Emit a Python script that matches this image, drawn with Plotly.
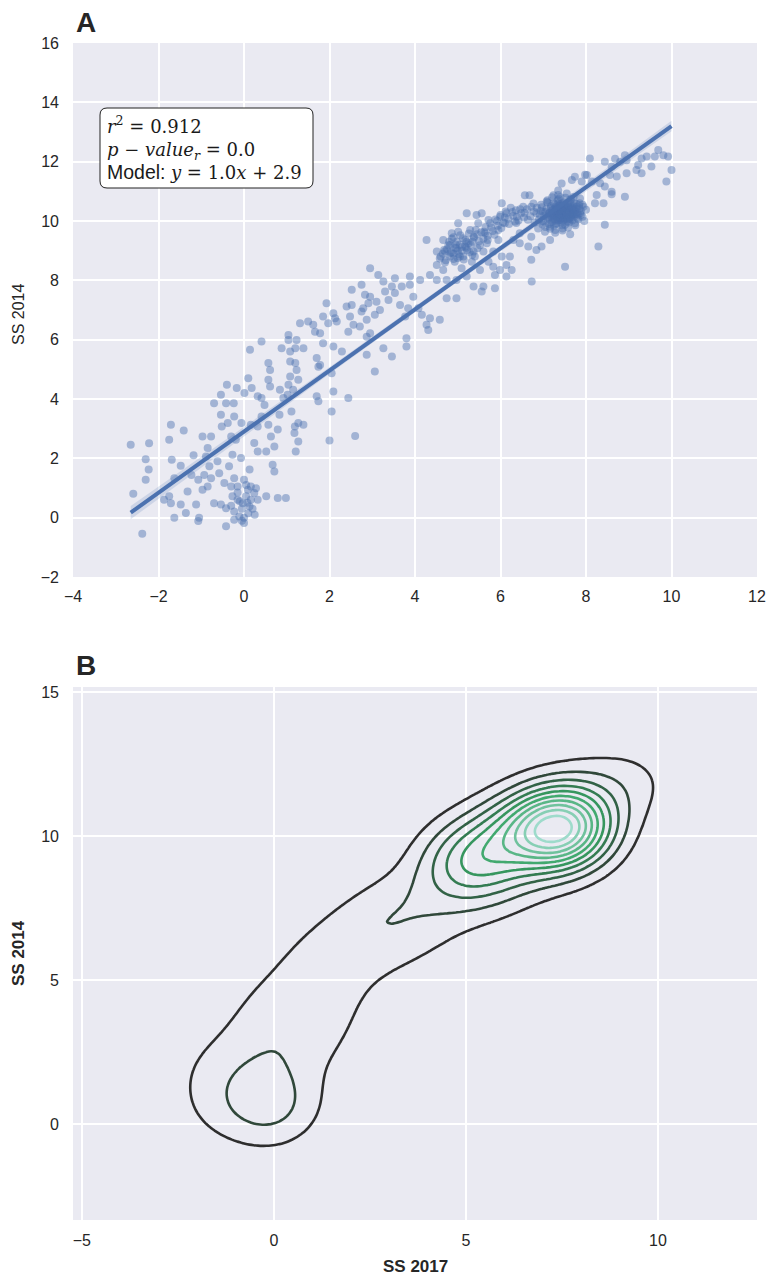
import numpy as np
import plotly.graph_objects as go

# (SS 2017, SS 2014) pairs, grouped by region of the cloud
lower_left = [
    (-2.65, 2.46), (-2.22, 2.51), (-2.30, 1.97), (-2.23, 1.62), (-2.30, 1.28), (-2.59, 0.81), (-2.38, -0.54),
    (-1.71, 3.13), (-1.75, 2.63), (-1.41, 2.94), (-1.69, 1.95), (-1.48, 1.75), (-1.63, 1.33), (-1.75, 0.72),
    (-1.71, 0.49), (-1.87, 0.60), (-1.48, 0.44), (-1.63, 0.00), (-1.32, 0.88), (-1.18, 2.10), (-1.23, 1.44),
    (-1.07, 1.28), (-1.12, 0.44), (-1.36, 0.16), (-1.05, 0.00), (-1.07, -0.11), (-0.97, 2.74), (-0.77, 2.74),
    (-0.85, 2.35), (-0.89, 2.06), (-0.81, 1.73), (-0.93, 1.44), (-0.77, 1.33), (-0.85, 1.05), (-0.97, 0.94),
    (-0.62, 1.90), (-0.58, 1.50), (-0.46, 1.17), (-0.70, 0.49), (-0.54, 0.44), (-0.42, 0.32), (-0.42, -0.29),
    (-0.38, 3.19), (-0.30, 2.74), (-0.19, 2.63), (-0.27, 2.12), (-0.07, 2.01), (-0.35, 1.73), (-0.23, 1.33),
    (-0.30, 1.05), (-0.15, 1.05), (-0.27, 0.72), (-0.15, 0.60), (-0.03, 0.49), (-0.23, 0.21), (-0.11, 0.04),
    (0.00, 0.00), (0.00, -0.18), (-0.23, -0.07), (0.09, 0.94), (0.16, 1.05), (0.24, 0.83), (0.16, 0.60),
    (0.32, 0.60), (0.13, 0.38), (0.05, 0.72), (0.28, 0.99), (0.00, 1.28), (0.13, 1.62), (0.32, 2.23),
    (0.24, 2.52), (0.52, 2.23), (0.71, 2.40), (0.67, 1.78), (0.71, 1.56), (0.52, 0.72), (0.79, 0.66),
    (0.98, 0.66), (1.21, 2.23), (1.27, 2.57), (1.18, 2.85), (0.79, 2.97), (0.63, 2.74),
    (-0.05, 0.30), (0.10, 0.15), (-0.15, 0.85), (0.05, 1.10), (0.20, 0.30), (-0.10, 0.55), (0.08, 0.50),
    (-0.30, 0.40), (0.25, 0.10), (-0.05, -0.10),
]

lower_rise = [
    (-0.70, 3.86), (-0.54, 3.47), (-0.42, 3.86), (-0.23, 3.41), (-0.24, 3.86), (-0.54, 4.14),
    (0.16, 3.13), (0.32, 3.07), (0.01, 4.20), (0.32, 4.09), (0.48, 3.80), (0.83, 3.47), (1.11, 3.58),
    (1.19, 3.07), (1.02, 4.14), (-0.40, 4.48), (-0.52, 3.07), (-0.17, 4.37), (0.10, 4.70), (0.18, 4.37),
    (0.41, 4.03), (-0.06, 3.19), (0.41, 3.41), (0.57, 3.13),
    (0.14, 5.66), (0.41, 5.94), (0.57, 5.21), (0.61, 4.98), (0.57, 4.65), (0.61, 4.42), (0.88, 5.71),
    (1.04, 6.16), (1.04, 5.99), (1.08, 5.60), (1.23, 5.99), (1.20, 5.71), (1.39, 5.71), (1.08, 5.26),
    (1.20, 5.21), (1.23, 4.98), (1.08, 4.76), (1.04, 4.48), (1.27, 4.65), (1.15, 4.31), (0.92, 4.03),
    (0.84, 4.31), (1.27, 3.19), (1.39, 3.13),
]

middle = [
    (1.31, 6.55), (1.50, 6.61), (1.62, 6.50), (1.78, 6.22), (1.66, 6.27), (1.85, 5.88), (1.70, 5.38),
    (1.74, 5.09), (1.78, 5.15), (2.05, 4.87), (2.09, 5.77), (2.29, 5.60), (1.70, 4.09), (1.74, 3.92),
    (2.05, 3.58), (2.09, 4.25), (2.44, 4.03), (1.93, 7.23), (1.85, 6.78), (2.09, 6.89), (2.13, 6.72),
    (1.97, 6.55), (2.40, 7.12), (2.52, 7.17), (2.75, 6.95), (2.48, 6.78), (2.56, 6.50), (2.71, 6.44),
    (2.44, 6.27), (2.52, 7.68), (2.75, 7.85), (2.83, 7.51), (2.87, 6.10), (2.87, 5.49), (2.87, 6.67),
    (2.00, 2.60), (2.60, 2.75), (3.06, 4.93), (2.95, 6.22), (3.26, 5.71), (3.46, 5.43), (3.80, 6.05),
    (3.80, 5.77), (2.17, 6.61), (2.79, 7.06), (2.95, 7.45), (2.91, 7.23), (3.10, 7.28), (3.18, 7.00),
    (3.06, 6.84), (3.30, 7.62), (3.38, 7.34), (3.46, 7.79), (3.53, 8.07), (3.53, 7.57), (3.65, 7.17),
    (3.69, 7.79), (3.88, 8.13), (3.88, 7.85), (3.96, 7.45), (3.84, 7.06), (3.77, 6.78), (4.08, 7.06),
    (4.16, 6.84), (4.35, 6.72), (4.58, 6.67), (4.31, 6.33), (4.27, 6.50), (2.95, 8.41), (3.14, 8.18),
    (3.26, 7.96),
]

upper_mid = [
    (4.27, 9.36), (4.12, 8.01), (4.35, 8.18), (4.51, 8.01), (4.66, 8.35), (4.58, 8.74), (4.51, 8.97),
    (4.70, 8.97), (4.82, 8.80), (4.66, 9.36), (4.86, 9.59), (4.82, 9.19), (4.97, 9.08), (4.93, 8.63),
    (5.09, 8.41), (4.97, 8.01), (5.21, 8.13), (5.13, 8.80), (5.21, 9.30), (5.01, 9.64), (5.01, 9.92),
    (5.29, 9.70), (5.48, 9.92), (5.37, 9.47), (5.17, 9.14), (5.37, 8.97), (5.33, 8.63), (5.52, 8.35),
    (5.37, 7.79), (5.60, 7.79), (5.56, 7.62), (5.87, 7.73), (4.74, 7.40), (4.97, 7.40), (5.64, 9.59),
    (5.68, 9.25), (5.60, 8.97), (5.72, 8.63), (5.83, 8.46), (5.87, 8.18), (5.99, 8.35), (6.14, 8.52),
    (6.26, 8.35), (6.14, 8.13), (5.99, 10.14), (6.03, 10.60), (6.14, 10.26), (6.10, 9.92), (5.95, 9.70),
    (5.95, 9.36), (5.83, 8.97), (6.03, 8.80), (6.22, 8.80), (6.30, 9.36), (6.34, 9.98), (5.21, 10.26),
    (5.44, 10.20), (4.51, 8.52), (4.74, 8.01), (5.56, 10.26), (5.72, 10.03),
    (4.75, 9.05), (4.90, 8.90), (5.05, 9.20), (4.80, 9.30), (5.00, 8.75), (4.65, 8.90), (5.10, 9.00),
    (4.90, 9.45),
]

# heavily overlapping markers along the ridge between x=4.6 and x=6.8
ridge_core = [
    (4.60, 8.80), (4.68, 9.02), (4.72, 8.68), (4.78, 9.18), (4.83, 8.92), (4.86, 9.40), (4.90, 8.72),
    (4.94, 9.10), (4.98, 9.30), (5.02, 8.88), (5.06, 9.52), (5.10, 9.12), (5.14, 8.70), (5.18, 9.36),
    (5.22, 9.02), (5.26, 9.58), (5.30, 9.20), (5.34, 8.86), (5.38, 9.44), (5.42, 9.70), (5.46, 9.08),
    (5.50, 9.32), (5.55, 9.62), (5.60, 9.40), (5.65, 9.80), (5.70, 9.50), (5.76, 9.92), (5.82, 9.66),
    (5.88, 10.05), (5.94, 9.84), (6.00, 10.20), (6.06, 9.95), (6.12, 10.32), (6.18, 10.08), (6.24, 10.45),
    (6.30, 10.18), (6.36, 10.36), (6.42, 10.02), (6.48, 10.26), (6.55, 10.12), (6.62, 10.40), (6.70, 10.16),
    (6.78, 10.32), (5.00, 9.00), (5.25, 9.25),
    (4.85, 8.95), (4.95, 9.20), (5.05, 8.80), (5.12, 9.42), (5.20, 9.10), (5.28, 8.95), (5.35, 9.30),
    (5.45, 9.55), (5.52, 9.18), (5.62, 9.64), (5.70, 9.36), (5.78, 9.78), (5.86, 9.54), (5.92, 10.00),
    (6.02, 9.76), (6.10, 10.12), (6.20, 9.90), (6.28, 10.30), (6.38, 10.14), (6.46, 10.40), (6.56, 10.28),
    (6.64, 10.04), (6.72, 10.48), (4.70, 8.60), (5.40, 8.80),
]

upper_right = [
    (6.37, 9.93), (6.45, 9.59), (6.53, 10.48), (6.57, 10.87), (6.68, 10.87), (6.77, 10.59), (6.84, 10.26),
    (6.96, 9.98), (6.88, 9.75), (6.72, 9.47), (6.65, 9.14), (6.84, 9.02), (6.72, 8.69), (6.96, 9.14),
    (7.04, 9.64), (7.16, 9.81), (7.24, 10.14), (7.35, 10.31), (7.47, 10.37), (7.39, 10.03), (7.55, 10.09),
    (7.63, 10.31), (7.71, 10.20), (7.59, 10.48), (7.78, 10.48), (7.86, 10.26), (7.43, 10.53), (7.28, 10.42),
    (7.32, 9.92), (7.51, 9.87), (7.74, 9.92), (7.24, 10.87), (7.35, 11.03), (7.43, 11.26), (7.55, 10.93),
    (7.71, 10.81), (7.86, 10.76), (7.94, 10.48), (7.67, 11.38), (7.74, 11.49), (7.90, 11.33), (7.98, 11.56),
    (7.51, 8.46), (6.73, 7.96), (7.16, 9.36), (7.28, 9.60), (7.63, 9.55), (6.45, 9.25),
    (7.30, 10.20), (7.40, 10.40), (7.50, 10.25), (7.60, 10.60), (7.45, 10.10), (7.20, 10.35), (7.65, 10.15),
    (7.35, 10.60), (7.55, 10.45), (7.70, 10.35), (7.80, 10.10), (7.15, 10.05), (7.25, 9.85), (7.45, 9.75),
    (7.60, 9.95), (7.00, 10.30), (6.95, 10.55), (7.10, 10.70), (7.85, 10.60), (7.40, 10.80),
]

# the saturated blob around SS 2017 = 7.4, SS 2014 = 10.3
upper_core = [
    (7.02, 10.18), (7.08, 10.42), (7.12, 10.11), (7.15, 10.28), (7.18, 10.50), (7.20, 9.96), (7.22, 10.22),
    (7.24, 10.61), (7.26, 10.05), (7.27, 10.33), (7.29, 10.47), (7.30, 9.90), (7.31, 10.14), (7.33, 10.26),
    (7.34, 10.70), (7.36, 10.02), (7.37, 10.38), (7.38, 10.18), (7.39, 10.55), (7.41, 10.29), (7.42, 9.94),
    (7.43, 10.44), (7.44, 10.12), (7.46, 10.33), (7.47, 10.62), (7.48, 10.21), (7.49, 10.04), (7.50, 10.40),
    (7.52, 10.27), (7.53, 10.52), (7.54, 10.15), (7.56, 10.36), (7.57, 9.98), (7.58, 10.24), (7.60, 10.46),
    (7.61, 10.08), (7.62, 10.31), (7.64, 10.58), (7.65, 10.19), (7.66, 10.40), (7.68, 10.02), (7.69, 10.28),
    (7.71, 10.50), (7.72, 10.14), (7.74, 10.35), (7.76, 10.23), (7.78, 10.57), (7.80, 10.30), (7.82, 10.06),
    (7.85, 10.41), (6.90, 10.05), (6.94, 10.34), (6.98, 9.88), (7.05, 9.80), (7.10, 10.62), (7.16, 9.74),
    (7.21, 10.80), (7.28, 9.70), (7.35, 10.88), (7.45, 9.68), (7.52, 10.78), (7.58, 9.78), (7.66, 10.74),
    (7.75, 9.86), (7.88, 10.20), (7.92, 10.55), (7.96, 10.00), (8.00, 10.38), (6.85, 10.45), (6.80, 9.95),
    (7.13, 10.25), (7.23, 10.38), (7.32, 10.44), (7.40, 10.09), (7.51, 10.16), (7.59, 10.37), (7.67, 10.22),
    (7.44, 10.26), (7.36, 10.12), (7.55, 10.30), (7.25, 10.20), (7.47, 10.48), (7.62, 10.12), (7.34, 10.34),
    (7.70, 10.42), (7.19, 10.16), (7.42, 10.58), (7.57, 10.05), (7.29, 10.02), (7.48, 10.34),
    (7.05, 10.30), (7.11, 10.05), (7.17, 10.44), (7.21, 10.10), (7.26, 10.56), (7.30, 10.30), (7.33, 10.08),
    (7.37, 10.50), (7.40, 10.22), (7.43, 10.36), (7.46, 10.00), (7.49, 10.52), (7.52, 10.34), (7.55, 10.20),
    (7.58, 10.54), (7.61, 10.26), (7.64, 10.06), (7.67, 10.46), (7.70, 10.24), (7.73, 10.60), (7.77, 10.40),
    (7.81, 10.22), (7.84, 10.52), (7.88, 10.34), (7.92, 10.14), (6.92, 10.20), (6.97, 10.46), (7.00, 9.98),
    (7.08, 10.66), (7.14, 9.90), (7.36, 10.74), (7.44, 9.86), (7.63, 10.72),
]

top_right = [
    (8.09, 12.11), (8.44, 12.00), (8.60, 11.83), (8.91, 12.22), (8.95, 12.05), (8.80, 12.00), (8.68, 12.10),
    (9.30, 12.11), (9.42, 12.17), (9.69, 12.39), (9.81, 12.22), (9.61, 12.17), (9.92, 12.17), (9.22, 11.89),
    (9.53, 11.84), (9.18, 11.72), (9.30, 11.61), (10.00, 11.72), (9.88, 11.33), (8.95, 11.61), (8.72, 11.50),
    (8.56, 11.55), (8.02, 11.55), (8.14, 11.33), (8.33, 11.27), (8.44, 11.16), (8.60, 10.99), (8.60, 10.90),
    (8.91, 10.82), (8.25, 10.88), (8.21, 10.60), (8.41, 10.60), (8.44, 9.87), (8.29, 9.14),
]

# regression statistics shown in the box
R_SQUARED = 0.912
P_VALUE_R = 0.0
FIT_SLOPE = 1.03
FIT_INTERCEPT = 2.90

# smoothing of the bivariate kernel density (SS 2017, SS 2014)
KDE_BW = (0.86, 0.93)
KDE_CUT = 3
N_LEVELS = 10

points = np.array(lower_left + lower_rise + middle + upper_mid + ridge_core
                  + upper_right + upper_core + top_right)
ss2017 = points[:, 0]
ss2014 = points[:, 1]

# fitted line with a 95% band for the mean
n = len(ss2017)
resid = ss2014 - (FIT_SLOPE * ss2017 + FIT_INTERCEPT)
s_err = np.sqrt(np.sum(resid ** 2) / (n - 2))
sxx = np.sum((ss2017 - ss2017.mean()) ** 2)
x_fit = np.linspace(ss2017.min(), ss2017.max(), 100)
y_fit = FIT_SLOPE * x_fit + FIT_INTERCEPT
ci = 1.96 * s_err * np.sqrt(1 / n + (x_fit - ss2017.mean()) ** 2 / sxx)

# gaussian kernel density on a grid
bwx, bwy = KDE_BW
gx = np.linspace(ss2017.min() - KDE_CUT * bwx, ss2017.max() + KDE_CUT * bwx, 160)
gy = np.linspace(ss2014.min() - KDE_CUT * bwy, ss2014.max() + KDE_CUT * bwy, 160)
kx = np.exp(-0.5 * ((gx[:, None] - ss2017[None, :]) / bwx) ** 2)
ky = np.exp(-0.5 * ((gy[:, None] - ss2014[None, :]) / bwy) ** 2)
dens = (ky @ kx.T) / (n * 2 * np.pi * bwx * bwy)
step = dens.max() / (N_LEVELS + 1)

W, H = 771, 1278
BLUE = "#4C72B0"
TEXT = "#262626"


def fx(p):
    return p / W


def fy(p):
    return 1 - p / H


fig = go.Figure()

fig.add_trace(go.Scatter(
    x=np.concatenate([x_fit, x_fit[::-1]]),
    y=np.concatenate([y_fit + ci, (y_fit - ci)[::-1]]),
    fill="toself", fillcolor="rgba(76,114,176,0.18)", line=dict(width=0),
    mode="lines", hoverinfo="skip", xaxis="x", yaxis="y",
))
fig.add_trace(go.Scatter(
    x=ss2017, y=ss2014, mode="markers",
    marker=dict(color=BLUE, size=8, opacity=0.45, line=dict(width=0)),
    xaxis="x", yaxis="y",
))
fig.add_trace(go.Scatter(
    x=x_fit, y=y_fit, mode="lines", line=dict(color=BLUE, width=4),
    xaxis="x", yaxis="y",
))

fig.add_trace(go.Contour(
    x=gx, y=gy, z=dens, xaxis="x2", yaxis="y2",
    contours=dict(coloring="lines", start=step, end=step * N_LEVELS, size=step, showlabels=False),
    line=dict(width=2.6, smoothing=1.0),
    colorscale=[[0.0, "#2e2e2e"], [0.5, "#37a364"], [1.0, "#9edbcb"]],
    showscale=False, hoverinfo="skip",
))

axis_common = dict(
    showgrid=True, gridcolor="white", gridwidth=1.5, zeroline=False, showline=False,
    ticks="", automargin=False, tickfont=dict(size=16, color=TEXT),
)

fig.update_layout(
    width=W, height=H,
    margin=dict(l=0, r=0, t=0, b=0, pad=0),
    paper_bgcolor="white", plot_bgcolor="#EAEAF2",
    showlegend=False,
    font=dict(family="Liberation Sans, Arial, sans-serif", size=16, color=TEXT),
    xaxis=dict(axis_common, domain=[fx(73), fx(757)], range=[-4, 12], tick0=0, dtick=2,
               anchor="y", ticklabelstandoff=8),
    yaxis=dict(axis_common, domain=[fy(577), fy(43)], range=[-2, 16], tick0=0, dtick=2,
               anchor="x", ticklabelstandoff=13),
    xaxis2=dict(axis_common, domain=[fx(73), fx(757)], range=[gx[0], gx[-1]],
                tickvals=[-5, 0, 5, 10], anchor="y2", ticklabelstandoff=9),
    yaxis2=dict(axis_common, domain=[fy(1220), fy(687)], range=[gy[0], gy[-1]],
                tickvals=[0, 5, 10, 15], anchor="x2", ticklabelstandoff=13),
)

# rounded box behind the statistics text
x0, x1, y0, y1, r = 100, 313, 108, 188, 7
rx, ry = r / W, r / H
bx0, bx1, by0, by1 = fx(x0), fx(x1), fy(y0), fy(y1)
box_path = (
    f"M {bx0 + rx},{by0} L {bx1 - rx},{by0} Q {bx1},{by0} {bx1},{by0 - ry} "
    f"L {bx1},{by1 + ry} Q {bx1},{by1} {bx1 - rx},{by1} "
    f"L {bx0 + rx},{by1} Q {bx0},{by1} {bx0},{by1 + ry} "
    f"L {bx0},{by0 - ry} Q {bx0},{by0} {bx0 + rx},{by0} Z"
)
fig.add_shape(type="path", path=box_path, xref="paper", yref="paper",
              fillcolor="white", line=dict(color="#222222", width=1))

stats_text = (
    f"<i>r</i><sup>2</sup> = {R_SQUARED:.3f}<br>"
    f"<i>p</i> − <i>value</i><sub><i>r</i></sub> = {P_VALUE_R:.1f}<br>"
    f"<span style=\"font-family:'Liberation Sans';font-size:19.5px\">Model: </span>"
    f"<i>y</i> = {FIT_SLOPE:.1f}<i>x</i> + {FIT_INTERCEPT:.1f}"
)
fig.add_annotation(
    text=stats_text, xref="paper", yref="paper", x=fx(105), y=fy(111),
    xanchor="left", yanchor="top", align="left", showarrow=False,
    font=dict(family="DejaVu Serif, Liberation Serif, serif", size=18, color="#1a1a1a"),
)

labels = [
    dict(text="<b>A</b>", x=fx(74), y=fy(22), xanchor="left", size=28, angle=0),
    dict(text="<b>B</b>", x=fx(74), y=fy(665), xanchor="left", size=28, angle=0),
    dict(text="SS 2014", x=fx(18), y=fy(315), xanchor="center", size=16, angle=-90),
    dict(text="<b>SS 2014</b>", x=fx(18), y=fy(953), xanchor="center", size=17, angle=-90),
    dict(text="<b>SS 2017</b>", x=fx(415), y=fy(1266), xanchor="center", size=17, angle=0),
]
for lab in labels:
    fig.add_annotation(
        text=lab["text"], xref="paper", yref="paper", x=lab["x"], y=lab["y"],
        xanchor=lab["xanchor"], yanchor="middle", textangle=lab["angle"], showarrow=False,
        font=dict(size=lab["size"], color=TEXT),
    )

fig.write_html("out.html")
